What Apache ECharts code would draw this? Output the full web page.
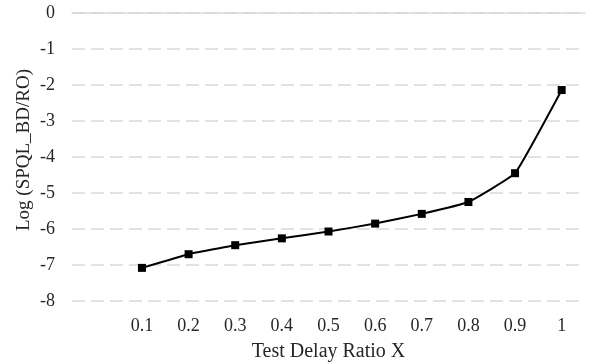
<!DOCTYPE html>
<html><head><meta charset="utf-8">
<script src="https://cdn.jsdelivr.net/npm/echarts@6/dist/echarts.min.js"></script>
<style>html,body{margin:0;padding:0;background:#fff}#c{width:597px;height:362px}</style>
</head><body><div id="c"></div>
<script>
const categories = ['', '0.1', '0.2', '0.3', '0.4', '0.5', '0.6', '0.7', '0.8', '0.9', '1'];
const values = [null, -7.08, -6.7, -6.45, -6.26, -6.07, -5.85, -5.58, -5.25, -4.45, -2.14];
const yTicks = { min: -8, max: 0, interval: 1 };
const font = '"Liberation Serif", "Times New Roman", serif';
const chart = echarts.init(document.getElementById('c'));
chart.setOption({
  animation: false,
  grid: { left: 72, right: 12, top: 13, bottom: 61, containLabel: false, outerBoundsMode: 'none' },
  xAxis: [{
    type: 'category', data: categories, boundaryGap: true,
    axisLine: { show: false }, axisTick: { show: false },
    axisLabel: { color: '#262626', fontFamily: font, fontSize: 18, margin: 16 },
    name: 'Test Delay Ratio X', nameLocation: 'middle', nameGap: 41, nameMoveOverlap: false,
    nameTextStyle: { color: '#262626', fontFamily: font, fontSize: 20 }
  }, {
    type: 'category', data: categories, position: 'top',
    axisLine: { show: true, lineStyle: { color: '#d9d9d9', width: 1.5 } },
    axisTick: { show: false }, axisLabel: { show: false }
  }],
  yAxis: {
    type: 'value', min: yTicks.min, max: yTicks.max, interval: yTicks.interval,
    axisLine: { show: false }, axisTick: { show: false },
    axisLabel: { color: '#262626', fontFamily: font, fontSize: 18, margin: 17 },
    splitLine: { lineStyle: { color: '#d9d9d9', type: [13, 6], width: 1.5 } },
    name: 'Log (SPQL_BD/RO)', nameLocation: 'middle', nameGap: 38, nameMoveOverlap: false,
    nameTextStyle: { color: '#262626', fontFamily: font, fontSize: 19, padding: [0, 0, 0, 14] }
  },
  series: [{
    type: 'line', data: values, smooth: 0.1,
    symbol: 'rect', symbolSize: 8,
    lineStyle: { color: '#000', width: 2 },
    itemStyle: { color: '#000' }
  }]
});
</script></body></html>
